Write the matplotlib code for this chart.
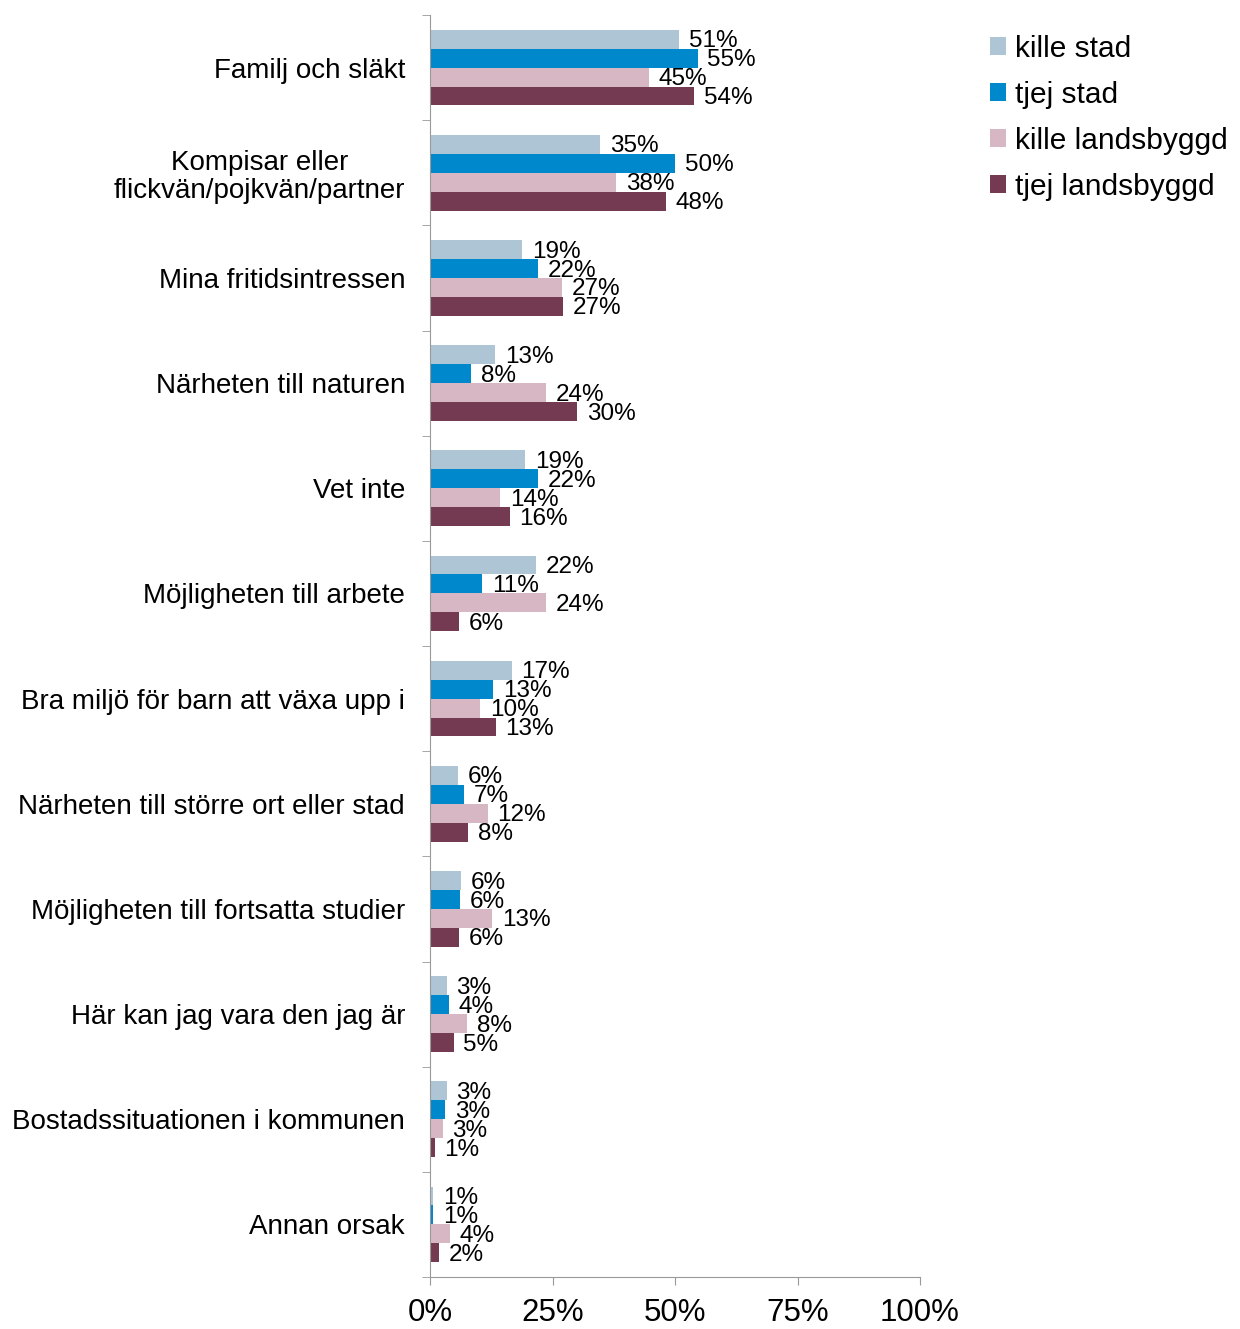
import matplotlib
matplotlib.use('agg')

import matplotlib.pyplot as plt
import numpy as np

plt.rcParams['font.family'] = ['Liberation Sans', 'DejaVu Sans']

# categories, top to bottom
categories = ['Familj och släkt', 'Kompisar eller\nflickvän/pojkvän/partner',
              'Mina fritidsintressen', 'Närheten till naturen', 'Vet inte',
              'Möjligheten till arbete', 'Bra miljö för barn att växa upp i',
              'Närheten till större ort eller stad', 'Möjligheten till fortsatta studier',
              'Här kan jag vara den jag är', 'Bostadssituationen i kommunen', 'Annan orsak']

series_names = ['kille stad', 'tjej stad', 'kille landsbyggd', 'tjej landsbyggd']

# values in percent
kille_stad = [50.8, 34.7, 18.8, 13.3, 19.4, 21.6, 16.7, 5.7, 6.3, 3.4, 3.4, 0.7]
tjej_stad = [54.6, 50.0, 22.0, 8.4, 22.0, 10.6, 12.9, 6.9, 6.1, 3.9, 3.1, 0.7]
kille_land = [44.6, 38.0, 26.9, 23.7, 14.3, 23.7, 10.2, 11.8, 12.7, 7.6, 2.6, 4.1]
tjej_land = [53.9, 48.2, 27.1, 30.0, 16.3, 5.9, 13.4, 7.8, 5.9, 4.8, 1.0, 1.8]

series = [kille_stad, tjej_stad, kille_land, tjej_land]
colors = ['#AEC5D5', '#0088CC', '#D8B7C5', '#733A52']

fig = plt.figure(figsize=(12.4, 13.29), dpi=100)
ax = fig.add_axes([430/1240, 1-1277/1329, 490/1240, (1277-15)/1329])

n = len(categories)
y = np.arange(n)
h = 0.18
for i, (vals, col, name) in enumerate(zip(series, colors, series_names)):
    pos = y - 1.5*h + i*h
    bars = ax.barh(pos, vals, height=h, color=col, label=name)
    for b, v in zip(bars, vals):
        ax.annotate('%d%%' % round(v), (b.get_width(), b.get_y() + h/2 + 0.02),
                    xytext=(7, 0), textcoords='offset points',
                    ha='left', va='center', fontsize=17.5, color='black')

ax.set_xlim(0, 100)
ax.set_ylim(n - 0.5, -0.5)
ax.set_xticks([0, 25, 50, 75, 100])
ax.set_xticklabels(['0%', '25%', '50%', '75%', '100%'], fontsize=22.5)
ax.set_yticks(y)
ax.set_yticklabels(categories, fontsize=20, linespacing=1.1)
ax.set_yticks(np.arange(n + 1) - 0.5, minor=True)
ax.tick_params(axis='y', which='major', length=0, pad=18)
ax.tick_params(axis='y', which='minor', length=6, color='#999999')
ax.tick_params(axis='x', length=6, color='#999999', pad=9)
for lbl in ax.get_yticklabels():
    lbl.set_horizontalalignment('right')
    lbl.set_multialignment('center')

for s in ['top', 'right']:
    ax.spines[s].set_visible(False)
ax.spines['left'].set_color('#999999')
ax.spines['bottom'].set_color('#999999')

fig.legend(loc='upper left', bbox_to_anchor=(978/1240, 1-23/1329), frameon=False,
           fontsize=21.5, handlelength=0.55, handleheight=0.55, handletextpad=0.3,
           labelspacing=0.6, borderaxespad=0)

fig.savefig('out.png', dpi=100)
